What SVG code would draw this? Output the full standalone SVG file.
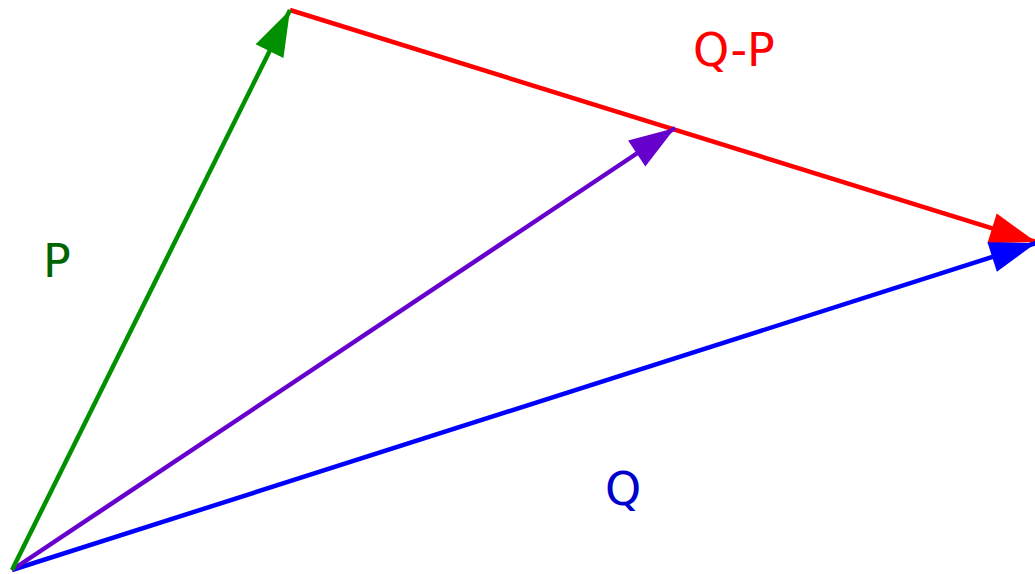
<svg xmlns="http://www.w3.org/2000/svg" width="1035" height="574" viewBox="0 0 1035 574">
  <style>
    .lbl { font-family: "DejaVu Sans", "Liberation Sans", sans-serif; font-size: 46px; }
    line { stroke-width: 4.5; fill: none; }
  </style>
  <defs>
    <marker id="ag" markerUnits="userSpaceOnUse" viewBox="0 -16 46 32" refX="46" refY="0" markerWidth="46" markerHeight="32" orient="auto" overflow="visible">
      <path d="M0,-15.5 L46,0 L0,15.5 z" fill="#009000"/>
    </marker>
    <marker id="ar" markerUnits="userSpaceOnUse" viewBox="0 -16 46 32" refX="46" refY="0" markerWidth="46" markerHeight="32" orient="auto" overflow="visible">
      <path d="M0,-15.5 L46,0 L0,15.5 z" fill="#ff0000"/>
    </marker>
    <marker id="ab" markerUnits="userSpaceOnUse" viewBox="0 -16 46 32" refX="46" refY="0" markerWidth="46" markerHeight="32" orient="auto" overflow="visible">
      <path d="M0,-15.5 L46,0 L0,15.5 z" fill="#0000ff"/>
    </marker>
    <marker id="ap" markerUnits="userSpaceOnUse" viewBox="0 -16 46 32" refX="46" refY="0" markerWidth="46" markerHeight="32" orient="auto" overflow="visible">
      <path d="M0,-15.5 L46,0 L0,15.5 z" fill="#6600cc"/>
    </marker>
  </defs>
  <g id="connectors">
    <line x1="290" y1="10" x2="1036" y2="242" stroke="#ff0000" marker-end="url(#ar)"/>
    <line x1="12" y1="570" x2="1036" y2="243" stroke="#0000ff" marker-end="url(#ab)"/>
    <line x1="12" y1="570" x2="675" y2="128" stroke="#6600cc" marker-end="url(#ap)"/>
    <line x1="12" y1="570" x2="290" y2="10" stroke="#009000" marker-end="url(#ag)"/>
  </g>
  <g id="label-P"><text class="lbl" x="43" y="277" fill="#006400">P</text></g>
  <g id="label-QP"><text class="lbl" x="693" y="66" fill="#ff0000">Q-P</text></g>
  <g id="label-Q"><text class="lbl" x="605" y="505" fill="#0000cc">Q</text></g>
</svg>
